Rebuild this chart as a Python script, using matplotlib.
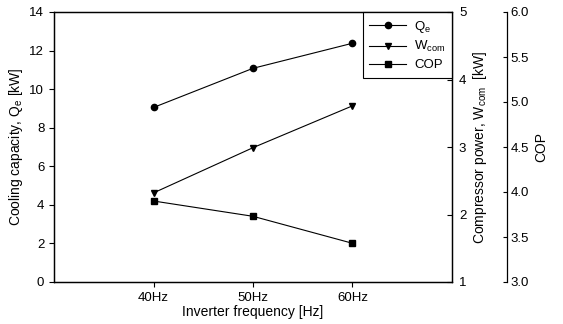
import matplotlib.pyplot as plt

plt.rcParams["font.family"] = ["Liberation Sans", "DejaVu Sans"]

freq_labels = ["40Hz", "50Hz", "60Hz"]
cooling_capacity = [9.05, 11.08, 12.38]
compressor_power = [2.32, 2.99, 3.61]
cop = [3.90, 3.73, 3.43]


def main() -> None:
    fig = plt.figure(figsize=(5.63, 3.24), dpi=100)
    ax = fig.add_axes([54 / 563, 1 - 282 / 324, 398 / 563, 270 / 324])
    ax_w = ax.twinx()
    ax_cop = ax.twinx()
    # offset is in points: 55 px at 100 dpi
    ax_cop.spines["right"].set_position(("outward", 55 * 72 / 100))

    x = [1, 2, 3]
    style = dict(color="black", linewidth=0.8, markersize=4.5)
    l1, = ax.plot(x, cooling_capacity, marker="o", label="Q$_\\mathregular{e}$", **style)
    l2, = ax_w.plot(x, compressor_power, marker="v", label="W$_\\mathregular{com}$", **style)
    l3, = ax_cop.plot(x, cop, marker="s", label="COP", **style)

    ax.set_xlim(0, 4)
    ax.set_xticks(x)
    ax.set_xticklabels(freq_labels)
    ax.set_ylim(0, 14)
    ax.set_yticks(range(0, 15, 2))
    ax_w.set_ylim(1, 5)
    ax_w.set_yticks([1, 2, 3, 4, 5])
    cop_ticks = [3.0, 3.5, 4.0, 4.5, 5.0, 5.5, 6.0]
    ax_cop.set_ylim(3.0, 6.0)
    ax_cop.set_yticks(cop_ticks)
    ax_cop.set_yticklabels([f"{v:.1f}" for v in cop_ticks])

    fs_tick = 9.5
    fs_label = 10
    ax.tick_params(direction="out", labelsize=fs_tick, length=3.5, width=0.8)
    ax_w.tick_params(direction="in", labelsize=fs_tick, length=3.5, width=0.8, pad=5)
    ax_cop.tick_params(direction="in", labelsize=fs_tick, length=3, width=0.8, pad=2.5)

    for a in (ax, ax_w, ax_cop):
        for s in a.spines.values():
            s.set_linewidth(0.9)
    ax_cop.spines["left"].set_visible(False)
    ax_cop.spines["top"].set_visible(False)
    ax_cop.spines["bottom"].set_visible(False)

    ax.set_xlabel("Inverter frequency [Hz]", fontsize=fs_label, labelpad=1)
    ax.set_ylabel("Cooling capacity, Q$_\\mathregular{e}$ [kW]", fontsize=fs_label, labelpad=3)
    ax_w.set_ylabel("Compressor power, W$_\\mathregular{com}$  [kW]", fontsize=fs_label, labelpad=3)
    ax_cop.set_ylabel("COP", fontsize=fs_label, labelpad=4)

    leg = ax.legend(
        handles=[l1, l2, l3],
        loc="upper right",
        bbox_to_anchor=(1.0, 1.0),
        borderaxespad=0,
        fontsize=fs_tick,
        fancybox=False,
        edgecolor="black",
        framealpha=1,
        handlelength=2.8,
        labelspacing=0.35,
        handletextpad=0.6,
        borderpad=0.5,
    )
    leg.get_frame().set_linewidth(0.8)
    leg.set_zorder(10)

    fig.savefig("out.png", dpi=100)
    plt.close(fig)


if __name__ == "__main__":
    main()
